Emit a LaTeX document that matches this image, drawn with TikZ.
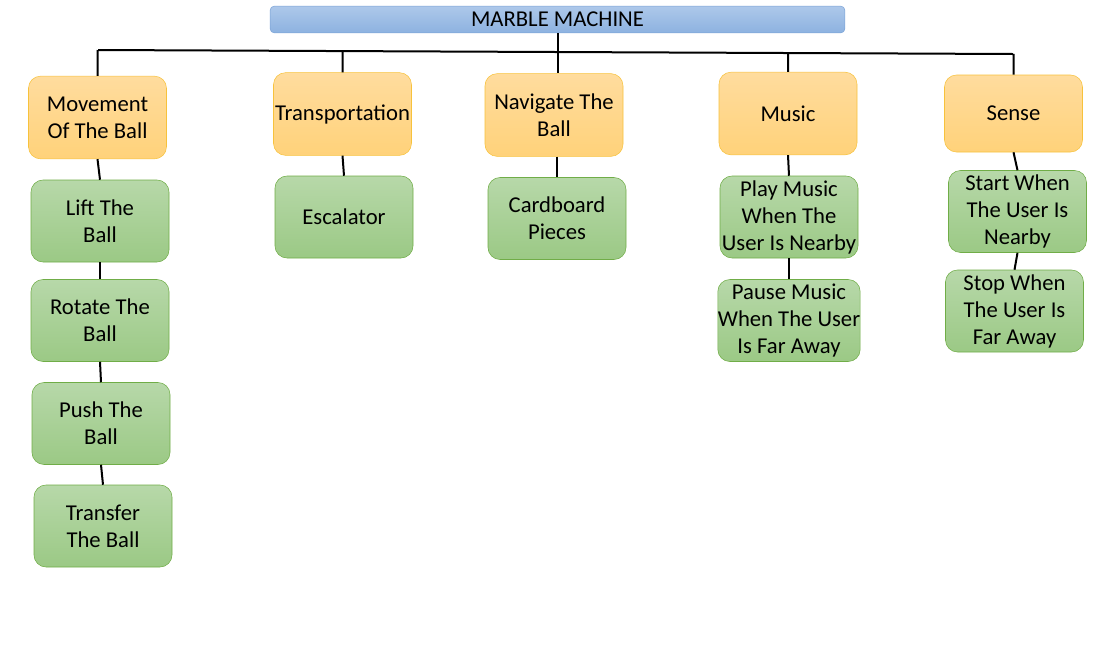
\documentclass[tikz,border=0pt]{standalone}
\usepackage{fontspec}
\setmainfont{Carlito}
\usepackage{tikz}
\usetikzlibrary{calc,positioning}
\usepackage{xcolor}
\definecolor{titletop}{HTML}{ADC8EA}
\definecolor{titlebot}{HTML}{8DB2E0}
\definecolor{titleline}{HTML}{7BA3D6}
\definecolor{cattop}{HTML}{FFDC9E}
\definecolor{catbot}{HTML}{FFD27A}
\definecolor{catline}{HTML}{F7C23C}
\definecolor{itemtop}{HTML}{B7D8A9}
\definecolor{itembot}{HTML}{9BC985}
\definecolor{itemline}{HTML}{70AD47}

\begin{document}
\begin{tikzpicture}
      [x=0.75pt, y=-0.75pt,
      font=\fontsize{17pt}{20.25pt}\selectfont,
      link/.style={draw, line width=1.5pt},
      title style/.style={draw=titleline, rectangle, rounded corners=3pt, top color=titletop, bottom color=titlebot,
        minimum width=431pt, minimum height=20pt, inner sep=0pt},
      node style1/.style={draw=catline, rectangle, rounded corners=9pt, align=center, top color=cattop, bottom color=catbot,
        minimum width=103.5pt, minimum height=62pt, inner sep=0pt},
      node style2/.style={draw=itemline, rectangle, rounded corners=9pt, align=center, top color=itemtop, bottom color=itembot,
        minimum width=103.5pt, minimum height=61.5pt, inner sep=0pt}
      ]
      \useasboundingbox (0,0) rectangle (1120,668);

      % root
      \node[title style] (root) at (557.5,19.5) {MARBLE MACHINE};

      % first level
      \node[node style1] (move)  at (97.5,117.5)  {Movement\\Of The Ball};
      \node[node style1] (trans) at (342.5,114)   {Transportation};
      \node[node style1] (nav)   at (554,115)     {Navigate The\\Ball};
      \node[node style1] (music) at (788,113.5)   {Music};
      \node[node style1, minimum height=57.75pt] (sense) at (1013.5,113.5) {Sense};

      % second level
      \node[node style2] (lift)     at (100,221)    {Lift The\\Ball};
      \node[node style2] (rotate)   at (100,320.5)  {Rotate The\\Ball};
      \node[node style2] (push)     at (101,423.5)  {Push The\\Ball};
      \node[node style2] (transfer) at (103,526)    {Transfer\\The Ball};
      \node[node style2] (esc)      at (344,217)    {Escalator};
      \node[node style2] (card)     at (557,218.5)  {Cardboard\\Pieces};
      \node[node style2] (play)     at (789,217)    {Play Music\\When The\\User Is Nearby};
      \node[node style2] (pause)    at (789,320.5)  {Pause Music\\When The User\\Is Far Away};
      \node[node style2] (start)    at (1017.5,211.5) {Start When\\The User Is\\Nearby};
      \node[node style2] (stop)     at (1014.5,311) {Stop When\\The User Is\\Far Away};

      % bar
      \coordinate (bar l) at (98,50);
      \coordinate (bar r) at (1013,54);
      \draw[link] (bar l) -- (bar r);
      \draw[link] (root.south) -- (root.south |- nav.north);
      \foreach \c in {move,trans,music,sense}
        \draw[link] ($(bar l)!(\c.north)!(bar r)$) -- (\c.north);

      % chains
      \draw[link] (move.south) -- (lift.north);
      \draw[link] (lift.south) -- (rotate.north);
      \draw[link] (rotate.south) -- (push.north);
      \draw[link] (push.south) -- (transfer.north);
      \draw[link] (trans.south) -- (esc.north);
      \draw[link] (nav.south -| card.north) -- (card.north);
      \draw[link] (music.south) -- (play.north);
      \draw[link] (play.south) -- (pause.north);
      \draw[link] (sense.south) -- (start.north);
      \draw[link] (start.south) -- (stop.north);
\end{tikzpicture}
\end{document}
